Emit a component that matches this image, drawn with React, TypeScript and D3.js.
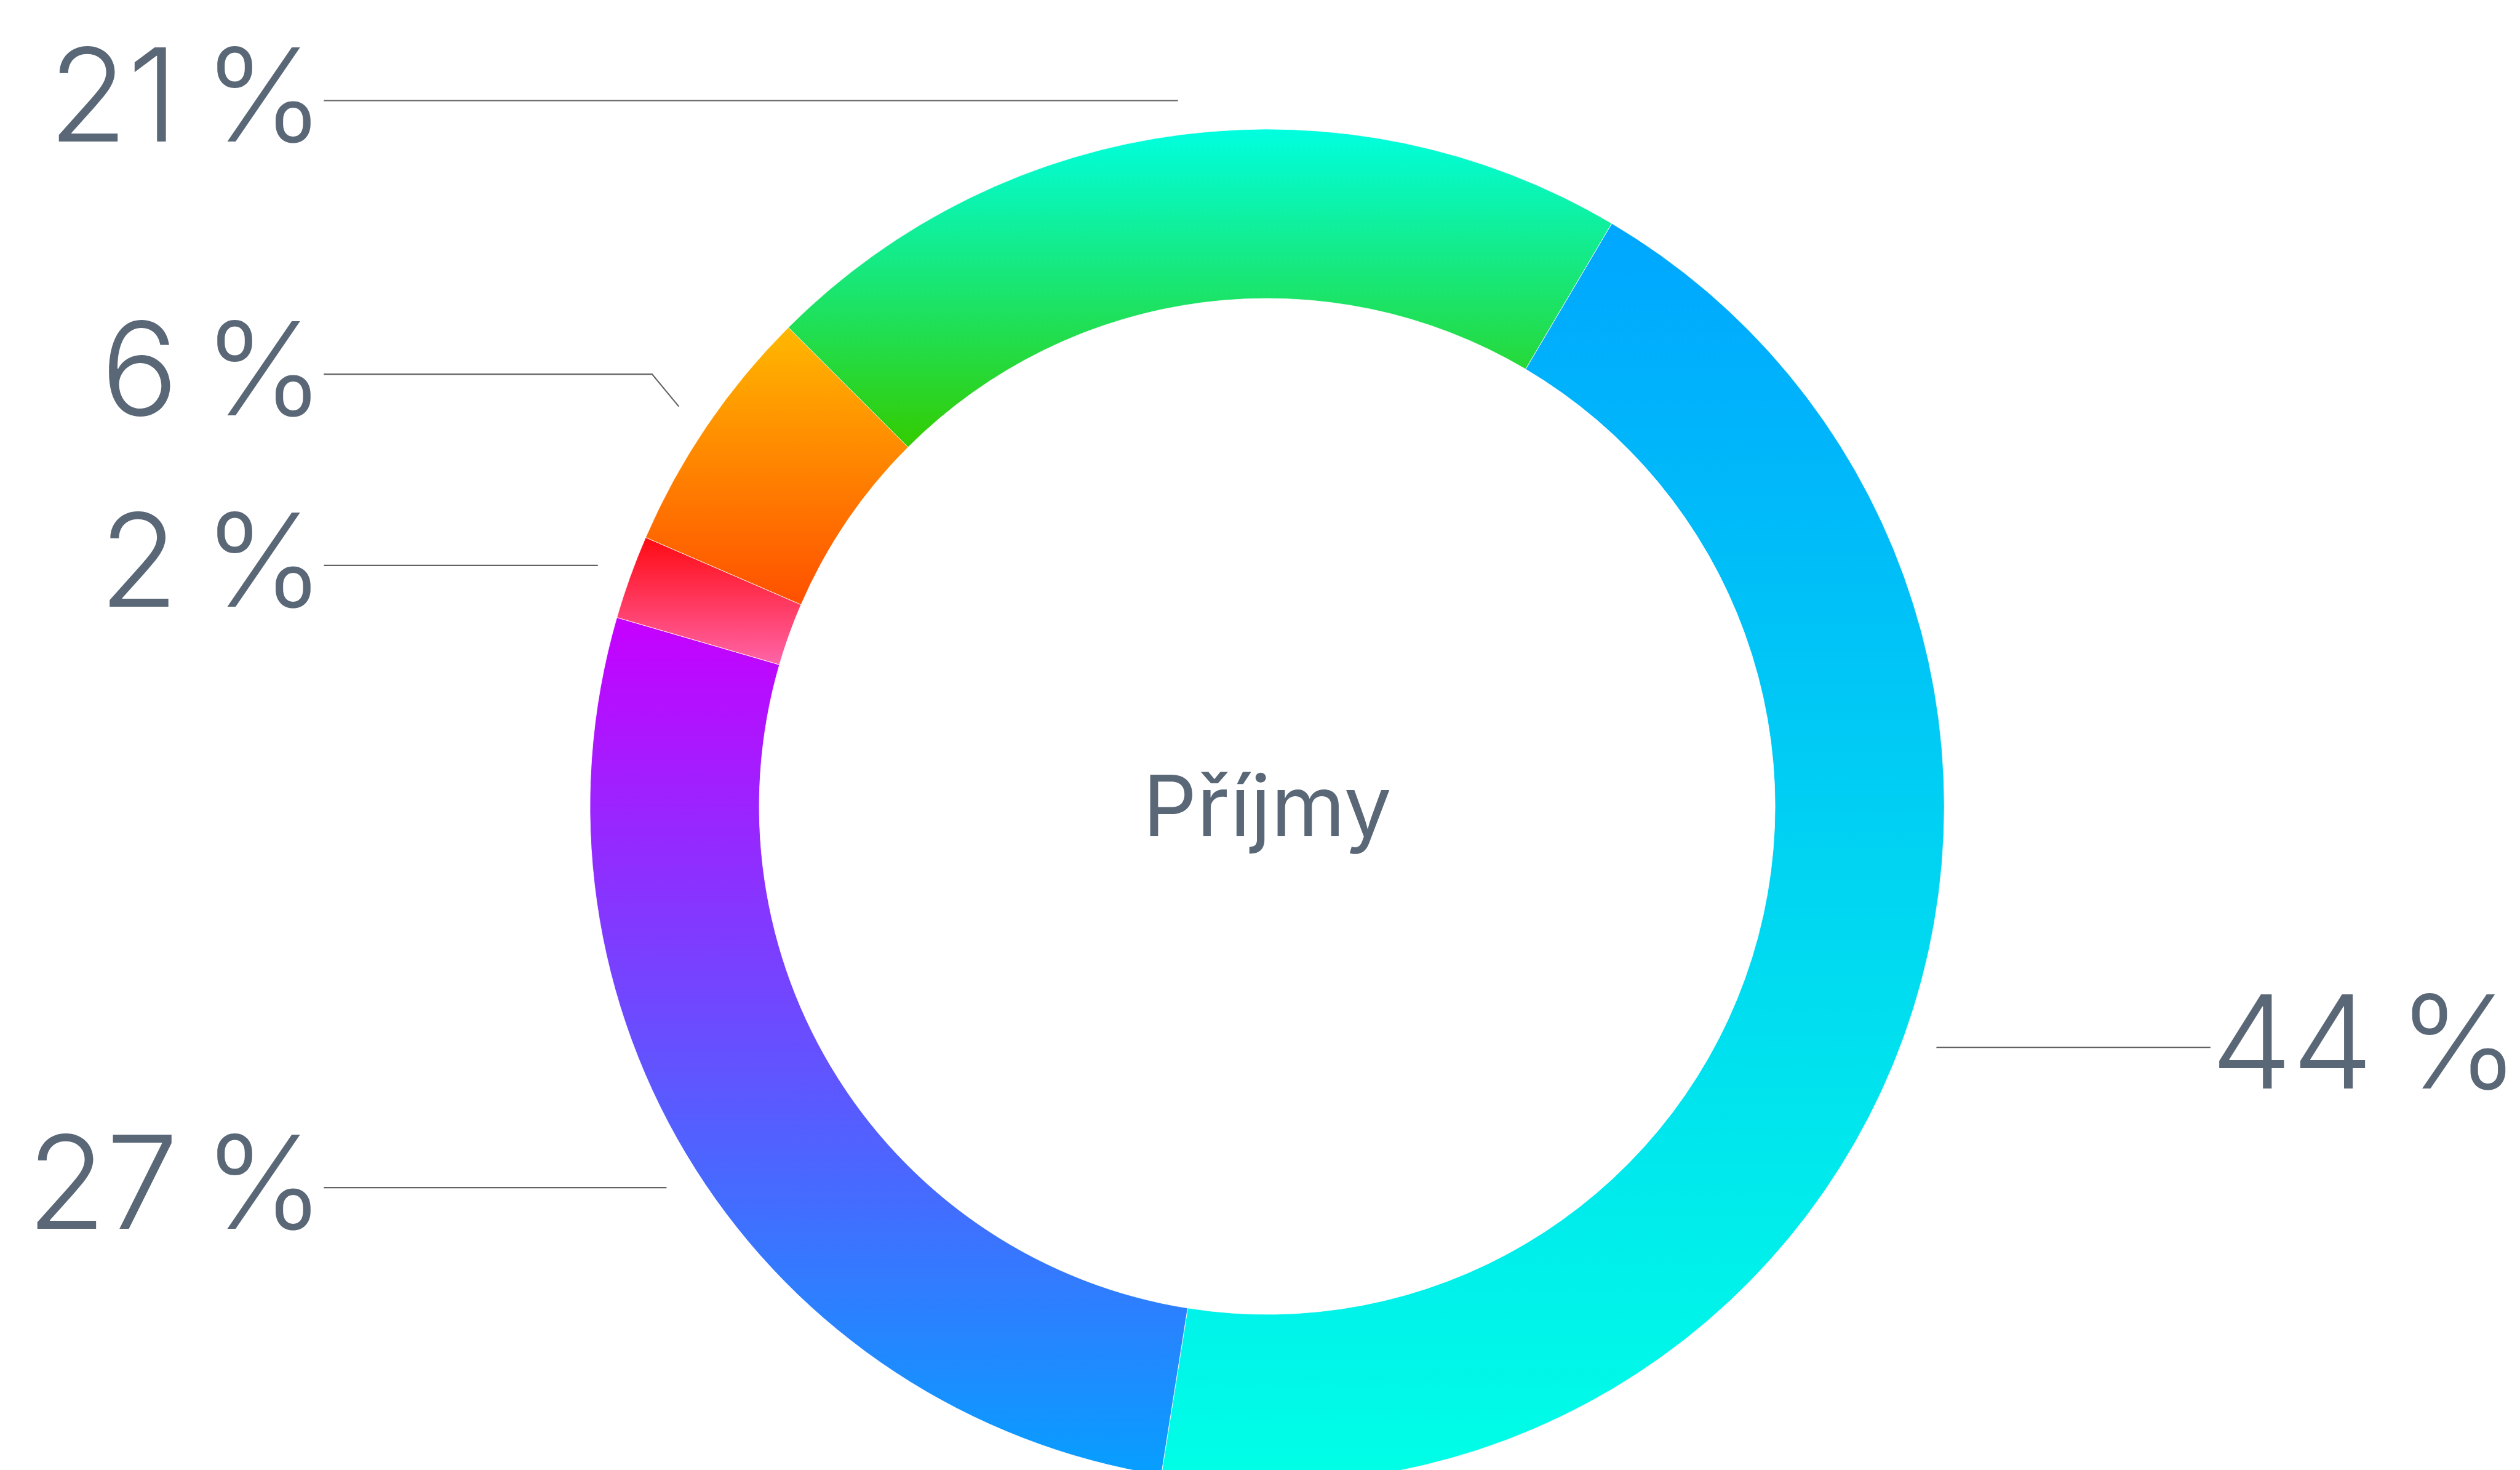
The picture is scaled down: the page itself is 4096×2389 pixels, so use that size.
import React, { useEffect, useRef } from 'react';
import * as d3 from 'd3';

// Slice values (percent), clockwise from the top-left
const values = [21, 44, 27, 2, 6];
const labels = ['21 %', '44 %', '27 %', '2 %', '6 %'];
const title = 'Příjmy';

// Each slice is filled with a vertical gradient: top colour -> bottom colour
const topColors = ['#00FFE0', '#00A6FF', '#C600FF', '#FF0A12', '#FFB800'];
const bottomColors = ['#33CC00', '#00FFE6', '#069FFF', '#FF65A8', '#FF5000'];

const App = () => {
  const ref = useRef<HTMLDivElement>(null);

  useEffect(() => {
    // work in the reference's own pixel space, viewBox scales it to the window
    const width = 4942;
    const height = 2882;
    const cx = 2485;
    const cy = 1581;
    const outer = 1328;
    const inner = 996;
    const anchorR = 1395;
    const lineReach = 1850;
    const fontSize = 253;
    const labelGap = 375;
    const textColor = '#596777';
    const font = 'Inter, "Noto Sans", sans-serif';

    const svg = d3
      .create('svg')
      .attr('width', 4096)
      .attr('height', 2389)
      .attr('viewBox', `0 0 ${width} ${height}`)
      .style('display', 'block');

    const defs = svg.append('defs');

    const pie = d3
      .pie<number>()
      .sort(null)
      .value((d) => d)
      .startAngle(-Math.PI / 4)
      .endAngle(-Math.PI / 4 + 2 * Math.PI);
    const arcs = pie(values);

    const arc = d3
      .arc<d3.PieArcDatum<number>>()
      .innerRadius(inner)
      .outerRadius(outer);

    // vertical extent of a ring sector (0 rad = 12 o'clock, clockwise)
    const yExtent = (a0: number, a1: number) => {
      const ys: number[] = [];
      [a0, a1].forEach((a) => {
        ys.push(-Math.cos(a) * inner, -Math.cos(a) * outer);
      });
      for (let k = Math.ceil(a0 / Math.PI); k * Math.PI <= a1; k++) {
        ys.push(Math.abs(k) % 2 === 0 ? -outer : outer);
      }
      return [d3.min(ys) as number, d3.max(ys) as number];
    };

    arcs.forEach((d, i) => {
      const [y0, y1] = yExtent(d.startAngle, d.endAngle);
      const g = defs
        .append('linearGradient')
        .attr('id', `slice-grad-${i}`)
        .attr('gradientUnits', 'userSpaceOnUse')
        .attr('x1', 0)
        .attr('x2', 0)
        .attr('y1', y0)
        .attr('y2', y1);
      g.append('stop').attr('offset', 0).attr('stop-color', topColors[i]);
      g.append('stop').attr('offset', 1).attr('stop-color', bottomColors[i]);
    });

    const ring = svg.append('g').attr('transform', `translate(${cx},${cy})`);

    ring
      .selectAll('path')
      .data(arcs)
      .enter()
      .append('path')
      .attr('d', arc)
      .attr('fill', (d, i) => `url(#slice-grad-${i})`)
      .attr('stroke', '#ffffff')
      .attr('stroke-width', 1);

    // label anchors just outside the ring, then push overlapping labels apart
    const items = arcs.map((d, i) => {
      const mid = (d.startAngle + d.endAngle) / 2;
      const ax = cx + Math.sin(mid) * anchorR;
      const ay = cy - Math.cos(mid) * anchorR;
      return { i, mid, ax, ay, y: ay, left: Math.sin(mid) < 0 };
    });

    [true, false].forEach((side) => {
      const group = items.filter((d) => d.left === side).sort((a, b) => a.y - b.y);
      for (let k = group.length - 2; k >= 0; k--) {
        group[k].y = Math.min(group[k].y, group[k + 1].y - labelGap);
      }
      for (let k = 1; k < group.length; k++) {
        group[k].y = Math.max(group[k].y, group[k - 1].y + labelGap);
      }
    });

    items.forEach((d) => {
      const dir = d.left ? -1 : 1;
      const endX = cx + dir * lineReach;
      const bendX = d.ax + dir * Math.abs(d.y - d.ay) * Math.abs(Math.sin(d.mid));

      const p = d3.path();
      p.moveTo(endX, d.y);
      p.lineTo(bendX, d.y);
      p.lineTo(d.ax, d.ay);

      svg
        .append('path')
        .attr('d', p.toString())
        .attr('fill', 'none')
        .attr('stroke', '#626262')
        .attr('stroke-width', 2.6);

      svg
        .append('text')
        .attr('x', d.left ? endX + 1 : endX + 1)
        .attr('y', d.y + fontSize * 0.318)
        .attr('text-anchor', d.left ? 'end' : 'start')
        .attr('font-family', font)
        .attr('font-weight', 300)
        .attr('font-size', fontSize)
        .attr('word-spacing', -22)
        .attr('fill', textColor)
        .text(labels[d.i]);
    });

    // centre title
    svg
      .append('text')
      .attr('x', cx)
      .attr('y', cy + 58)
      .attr('text-anchor', 'middle')
      .attr('font-family', font)
      .attr('font-size', 166)
      .attr('fill', textColor)
      .text(title);

    const node = ref.current;
    if (!node) return;
    node.innerHTML = '';
    node.appendChild(svg.node() as SVGSVGElement);
    return () => {
      node.innerHTML = '';
    };
  }, []);

  return (
    <>
      <style>{'html,body{margin:0;padding:0;overflow:hidden;background:#fff}'}</style>
      <div className="donut-chart" ref={ref}></div>
    </>
  );
};

export default App;
